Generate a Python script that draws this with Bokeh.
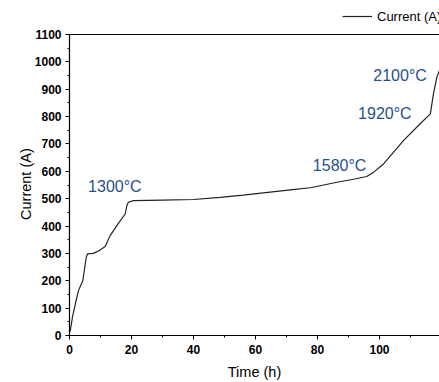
from bokeh.plotting import figure
from bokeh.models import (Range1d, SingleIntervalTicker, Span, Label,
                          Legend, LegendItem)
from bokeh.embed import file_html
from bokeh.resources import INLINE

# Data
time_h = [0, 0.3, 1.0, 1.9, 2.9, 4.3, 5.4, 5.8, 7.7, 9.5, 11.5, 13.1, 15.5,
          18.0, 18.5, 19.0, 20.6, 30, 40, 48.6, 56, 64.7, 72, 77.7, 86.3,
          92, 95.9, 98.1, 101.3, 107.8, 113.1, 116.4, 117.4, 118.5, 119.3,
          120.0]
current_a = [12, 20, 70, 116, 164, 201, 286, 298, 300, 310, 325, 365, 405,
             445, 475, 487, 493, 495, 497, 505, 513, 524, 533, 540, 560,
             572, 581, 597, 627, 713, 774, 810, 883, 944, 968, 985]

ann_text = ["1300°C", "1580°C", "1920°C", "2100°C"]
ann_x = [6.0, 78.5, 93.1, 98.0]
ann_y = [545, 620, 811, 952]

y_max = 1100
series_name = "Current (A)"
x_title = "Time (h)"
y_title = "Current (A)"

FONT = "Liberation Sans"
BLUE = "#28508f"

# frame covers the whole top area so the legend can sit above the axes box
p = figure(width=439, height=382, output_backend="svg", toolbar_location=None,
           x_range=Range1d(0, 119.35), y_range=Range1d(0, y_max + 124.3),
           min_border_left=69, min_border_right=0, min_border_top=0,
           min_border_bottom=47)
p.outline_line_color = None
p.xgrid.visible = False
p.ygrid.visible = False
p.background_fill_color = "white"
p.border_fill_color = "white"

r = p.line(time_h, current_a, line_color="#222222", line_width=1.2)

for ax, tick_int in ((p.xaxis[0], 20), (p.yaxis[0], 100)):
    ax.ticker = SingleIntervalTicker(interval=tick_int, num_minor_ticks=2)
    ax.axis_line_color = "black"
    ax.axis_line_width = 1.2
    ax.major_tick_line_color = "black"
    ax.minor_tick_line_color = "black"
    ax.major_tick_in = 0
    ax.major_tick_out = 4
    ax.minor_tick_in = 0
    ax.minor_tick_out = 2
    ax.major_label_text_font = FONT
    ax.major_label_text_font_style = "bold"
    ax.major_label_text_font_size = "12px"
    ax.major_label_text_color = "black"
    ax.axis_label_text_font = FONT
    ax.axis_label_text_font_style = "normal"
    ax.axis_label_text_font_size = "14.5px"
    ax.axis_label_text_color = "black"

p.yaxis[0].bounds = (0, y_max)
p.xaxis[0].axis_label = x_title
p.xaxis[0].major_label_standoff = 5
p.xaxis[0].axis_label_standoff = 7
# trailing no-break spaces centre the visible title on the 0-1100 box
p.yaxis[0].axis_label = y_title + "\u00a0" * 8
p.yaxis[0].major_label_standoff = 4
p.yaxis[0].axis_label_standoff = -2

p.add_layout(Span(location=y_max, dimension="width", line_color="black",
                  line_width=1.2))

for t, x, y in zip(ann_text, ann_x, ann_y):
    p.add_layout(Label(x=x, y=y, text=t, text_align="left",
                       text_baseline="middle", text_font=FONT,
                       text_font_size="16px", text_color=BLUE))

legend = Legend(items=[LegendItem(label=series_name, renderers=[r])],
                location=(273, 309), border_line_color=None,
                background_fill_alpha=0, padding=0, margin=0,
                glyph_width=30, glyph_height=20, label_height=20,
                label_standoff=5, label_text_font=FONT,
                label_text_font_size="13px", label_text_color="black")
p.add_layout(legend)

open("out.html", "w").write(file_html(p, INLINE))
